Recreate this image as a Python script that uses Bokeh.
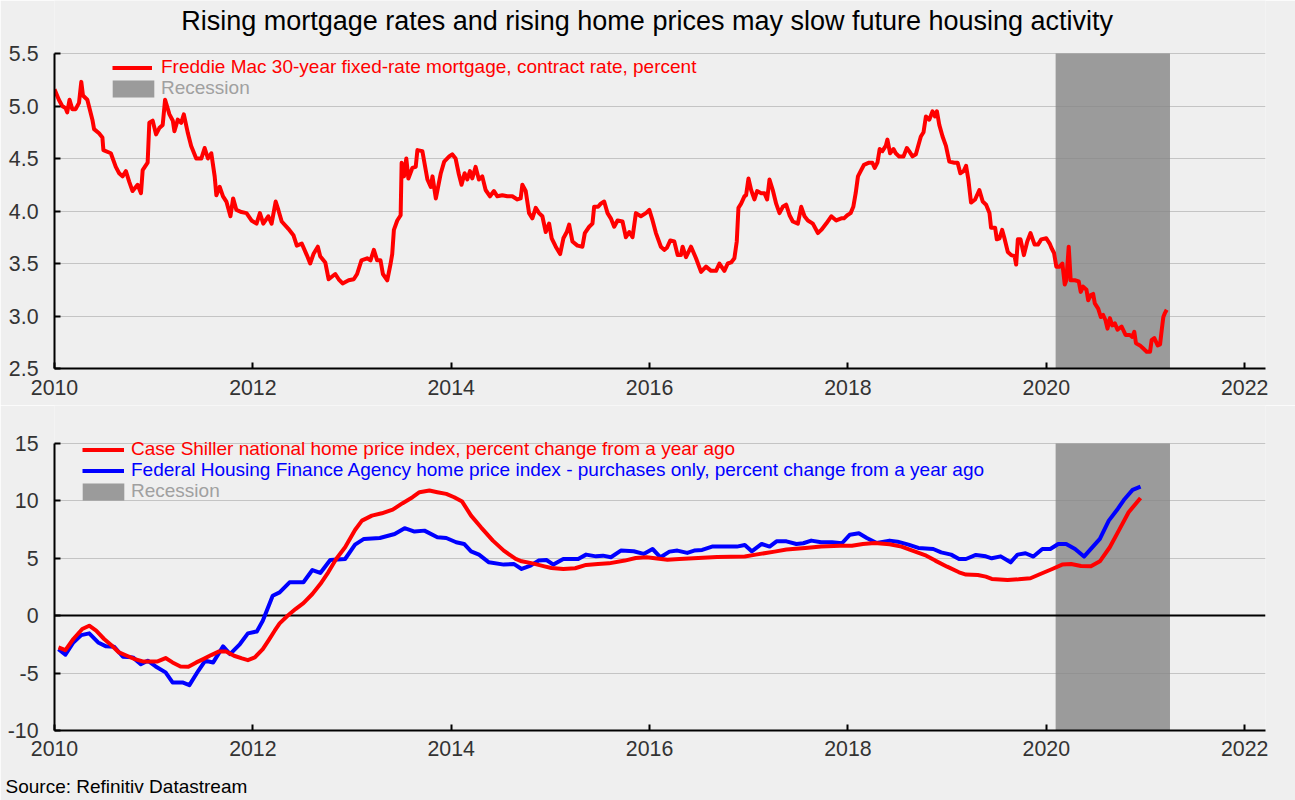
from bokeh.plotting import figure
from bokeh.models import Range1d, FixedTicker, Legend, LegendItem, Title, Label
from bokeh.layouts import column
from bokeh.embed import file_html
from bokeh.resources import INLINE

TITLE = "Rising mortgage rates and rising home prices may slow future housing activity"
SOURCE = "Source: Refinitiv Datastream"
RATE_LABEL = "Freddie Mac 30-year fixed-rate mortgage, contract rate, percent"
CS_LABEL = "Case Shiller national home price index, percent change from a year ago"
FHFA_LABEL = "Federal Housing Finance Agency home price index - purchases only, percent change from a year ago"
REC_LABEL = "Recession"

x_ticks = [2010, 2012, 2014, 2016, 2018, 2020, 2022]
x_tick_labels = ["2010", "2012", "2014", "2016", "2018", "2020", "2022"]
top_y_ticks = [2.5, 3.0, 3.5, 4.0, 4.5, 5.0, 5.5]
top_y_labels = ["2.5", "3.0", "3.5", "4.0", "4.5", "5.0", "5.5"]
bot_y_ticks = [-10, -5, 0, 5, 10, 15]
bot_y_labels = ["-10", "-5", "0", "5", "10", "15"]

recession_start = [2020.094]
recession_end = [2021.247]

rate_dates = [
    2010.000, 2010.044, 2010.078, 2010.111, 2010.128, 2010.152, 2010.179, 2010.213, 2010.247, 2010.270,
    2010.287, 2010.331, 2010.382, 2010.399, 2010.449, 2010.483, 2010.493, 2010.568, 2010.618, 2010.652,
    2010.686, 2010.720, 2010.753, 2010.787, 2010.838, 2010.872, 2010.889, 2010.939, 2010.956, 2010.990,
    2011.024, 2011.057, 2011.091, 2011.115, 2011.159, 2011.193, 2011.209, 2011.243, 2011.277, 2011.304,
    2011.345, 2011.378, 2011.429, 2011.480, 2011.514, 2011.547, 2011.581, 2011.615, 2011.632, 2011.666,
    2011.699, 2011.733, 2011.774, 2011.801, 2011.834, 2011.885, 2011.936, 2011.986, 2012.037, 2012.071,
    2012.105, 2012.155, 2012.189, 2012.230, 2012.257, 2012.291, 2012.358, 2012.409, 2012.443, 2012.493,
    2012.544, 2012.578, 2012.611, 2012.655, 2012.679, 2012.730, 2012.764, 2012.831, 2012.865, 2012.905,
    2012.966, 2013.017, 2013.051, 2013.095, 2013.152, 2013.186, 2013.220, 2013.253, 2013.287, 2013.311,
    2013.355, 2013.389, 2013.405, 2013.422, 2013.456, 2013.490, 2013.500, 2013.524, 2013.547, 2013.568,
    2013.608, 2013.642, 2013.659, 2013.709, 2013.760, 2013.794, 2013.811, 2013.845, 2013.895, 2013.929,
    2013.980,
    2014.010, 2014.044, 2014.077, 2014.104, 2014.135, 2014.162, 2014.189, 2014.212, 2014.246, 2014.279,
    2014.313, 2014.347, 2014.391, 2014.431, 2014.465, 2014.515, 2014.566, 2014.616, 2014.667, 2014.700,
    2014.717, 2014.751, 2014.785, 2014.818, 2014.852, 2014.886, 2014.919, 2014.953, 2014.987, 2015.013,
    2015.054, 2015.098, 2015.131, 2015.165, 2015.189, 2015.222, 2015.273, 2015.323, 2015.347, 2015.391,
    2015.424, 2015.441, 2015.481, 2015.508, 2015.542, 2015.576, 2015.609, 2015.643, 2015.677, 2015.727,
    2015.761, 2015.795, 2015.828, 2015.862, 2015.912, 2015.963, 2015.997, 2016.030, 2016.064, 2016.114,
    2016.148, 2016.175, 2016.209, 2016.249, 2016.283, 2016.316, 2016.333, 2016.367, 2016.418, 2016.468,
    2016.519, 2016.569, 2016.620, 2016.670, 2016.704, 2016.754, 2016.788, 2016.822, 2016.855, 2016.879,
    2016.896, 2016.923, 2016.956, 2016.973, 2016.997, 2017.024, 2017.057, 2017.084, 2017.125, 2017.158,
    2017.185, 2017.209, 2017.242, 2017.276, 2017.310, 2017.343, 2017.377, 2017.411, 2017.444, 2017.495,
    2017.529, 2017.562, 2017.596, 2017.646, 2017.697, 2017.731, 2017.781, 2017.832, 2017.882, 2017.933,
    2017.960, 2017.993, 2018.027, 2018.054, 2018.078, 2018.101, 2018.128, 2018.162, 2018.212, 2018.246,
    2018.270, 2018.297, 2018.320, 2018.347, 2018.381, 2018.398, 2018.425, 2018.459, 2018.482, 2018.516,
    2018.560, 2018.594, 2018.617, 2018.651, 2018.685, 2018.708, 2018.735, 2018.762, 2018.786, 2018.820,
    2018.853, 2018.877, 2018.897, 2018.921, 2018.954, 2018.988, 2019.022, 2019.073, 2019.106, 2019.133,
    2019.167, 2019.191, 2019.214, 2019.241, 2019.282, 2019.325, 2019.359, 2019.393, 2019.427, 2019.443,
    2019.484, 2019.501, 2019.528, 2019.555, 2019.578, 2019.612, 2019.646, 2019.680, 2019.696, 2019.713,
    2019.740, 2019.774, 2019.808, 2019.841, 2019.882, 2019.916, 2019.949, 2020.000, 2020.034, 2020.051,
    2020.078, 2020.101, 2020.135, 2020.162, 2020.186, 2020.202, 2020.226, 2020.246, 2020.287, 2020.327,
    2020.347, 2020.371, 2020.405, 2020.422, 2020.449, 2020.472, 2020.489, 2020.523, 2020.550, 2020.573,
    2020.597, 2020.617, 2020.641, 2020.664, 2020.691, 2020.718, 2020.759, 2020.799, 2020.843, 2020.867,
    2020.887, 2020.904, 2020.944, 2020.978, 2021.012, 2021.046, 2021.062, 2021.089, 2021.123, 2021.147,
    2021.164, 2021.180, 2021.197, 2021.214,
]
rate_values = [
    5.16, 5.06, 5.00, 4.98, 4.94, 5.06, 4.97, 4.97, 5.03, 5.23,
    5.10, 5.06, 4.87, 4.78, 4.74, 4.70, 4.58, 4.55, 4.42, 4.36,
    4.33, 4.38, 4.28, 4.19, 4.25, 4.17, 4.39, 4.46, 4.84, 4.86,
    4.73, 4.79, 4.82, 5.06, 4.92, 4.86, 4.76, 4.87, 4.84, 4.92,
    4.74, 4.62, 4.50, 4.50, 4.60, 4.50, 4.55, 4.33, 4.15, 4.23,
    4.14, 4.09, 3.95, 4.12, 4.01, 3.99, 3.98, 3.91, 3.88, 3.98,
    3.88, 3.95, 3.88, 4.09, 4.01, 3.90, 3.83, 3.77, 3.67, 3.69,
    3.58, 3.50, 3.59, 3.66, 3.57, 3.51, 3.35, 3.40, 3.35, 3.31,
    3.34, 3.35, 3.40, 3.53, 3.55, 3.53, 3.63, 3.53, 3.53, 3.40,
    3.34, 3.50, 3.59, 3.82, 3.91, 3.96, 4.46, 4.33, 4.50, 4.31,
    4.41, 4.42, 4.58, 4.57, 4.30, 4.23, 4.33, 4.12, 4.36, 4.47,
    4.52,
    4.54, 4.50, 4.35, 4.25, 4.36, 4.30, 4.38, 4.31, 4.42, 4.30,
    4.33, 4.20, 4.14, 4.19, 4.14, 4.15, 4.14, 4.14, 4.11, 4.12,
    4.25, 4.19, 3.98, 3.93, 4.03, 3.98, 3.95, 3.80, 3.88, 3.74,
    3.66, 3.59, 3.74, 3.80, 3.87, 3.71, 3.67, 3.66, 3.79, 3.85,
    3.88, 4.04, 4.04, 4.07, 4.09, 3.98, 3.93, 3.85, 3.91, 3.90,
    3.75, 3.80, 3.75, 3.98, 3.95, 3.98, 4.01, 3.91, 3.79, 3.66,
    3.63, 3.65, 3.72, 3.71, 3.58, 3.58, 3.66, 3.56, 3.66, 3.55,
    3.42, 3.47, 3.43, 3.43, 3.50, 3.43, 3.50, 3.51, 3.55, 3.71,
    4.03, 4.07, 4.14, 4.15, 4.31, 4.20, 4.11, 4.19, 4.17, 4.17,
    4.11, 4.30, 4.20, 4.07, 3.98, 4.04, 4.06, 3.96, 3.90, 3.88,
    4.04, 3.95, 3.91, 3.88, 3.79, 3.82, 3.88, 3.95, 3.91, 3.93,
    3.93, 3.96, 3.98, 4.04, 4.17, 4.33, 4.38, 4.44, 4.46, 4.46,
    4.41, 4.46, 4.59, 4.57, 4.62, 4.68, 4.55, 4.59, 4.55, 4.52,
    4.52, 4.60, 4.57, 4.52, 4.54, 4.62, 4.71, 4.75, 4.90, 4.87,
    4.95, 4.90, 4.95, 4.82, 4.71, 4.62, 4.47, 4.46, 4.46, 4.36,
    4.38, 4.43, 4.30, 4.08, 4.11, 4.20, 4.09, 4.06, 3.98, 3.84,
    3.84, 3.73, 3.74, 3.82, 3.74, 3.61, 3.58, 3.57, 3.49, 3.73,
    3.73, 3.58, 3.71, 3.79, 3.68, 3.68, 3.73, 3.74, 3.69, 3.65,
    3.60, 3.47, 3.47, 3.50, 3.30, 3.34, 3.66, 3.34, 3.34, 3.33,
    3.23, 3.28, 3.25, 3.15, 3.20, 3.21, 3.12, 3.07, 2.99, 3.01,
    2.96, 2.88, 2.98, 2.91, 2.93, 2.87, 2.90, 2.82, 2.82, 2.80,
    2.85, 2.74, 2.72, 2.69, 2.66, 2.66, 2.77, 2.79, 2.72, 2.73,
    2.87, 2.99, 3.03, 3.06,
]

cs_dates = [
    2010.04, 2010.11, 2010.19, 2010.28, 2010.35, 2010.42, 2010.50, 2010.58, 2010.65, 2010.73,
    2010.81, 2010.89, 2010.96, 2011.04, 2011.12, 2011.19, 2011.27, 2011.35, 2011.43, 2011.50,
    2011.58, 2011.66, 2011.73, 2011.81, 2011.89, 2011.95, 2012.02, 2012.10, 2012.16, 2012.22,
    2012.27, 2012.35, 2012.43, 2012.51, 2012.60, 2012.68, 2012.76, 2012.84, 2012.93, 2013.03,
    2013.10, 2013.20, 2013.30, 2013.41, 2013.51, 2013.61, 2013.68, 2013.78, 2013.86, 2013.95,
    2014.03, 2014.11, 2014.20, 2014.30, 2014.42, 2014.53, 2014.65, 2014.71, 2014.82, 2014.94,
    2015.01, 2015.13, 2015.25, 2015.36, 2015.48, 2015.59, 2015.75, 2015.86, 2015.97, 2016.18,
    2016.30, 2016.49, 2016.68, 2016.96, 2017.07, 2017.26, 2017.38, 2017.57, 2017.73, 2017.92,
    2018.04, 2018.15, 2018.27, 2018.42, 2018.54, 2018.65, 2018.79, 2018.88, 2019.00, 2019.12,
    2019.19, 2019.31, 2019.39, 2019.45, 2019.61, 2019.72, 2019.84, 2019.94, 2020.06, 2020.16,
    2020.25, 2020.35, 2020.45, 2020.54, 2020.64, 2020.74, 2020.83, 2020.95,
]
cs_values = [
    -2.76, -3.00, -2.03, -1.16, -0.87, -1.31, -2.03, -2.62, -3.20, -3.49,
    -3.78, -3.98, -4.00, -3.98, -3.69, -4.07, -4.42, -4.45, -4.07, -3.78,
    -3.43, -3.11, -3.11, -3.49, -3.72, -3.87, -3.63, -2.91, -2.12, -1.31,
    -0.67, 0.00, 0.58, 1.10, 1.89, 2.76, 3.78, 4.94, 5.96, 7.47,
    8.28, 8.72, 8.92, 9.24, 9.80, 10.32, 10.76, 10.90, 10.76, 10.61,
    10.32, 9.94, 8.72, 7.70, 6.54, 5.67, 4.94, 4.74, 4.56, 4.30,
    4.16, 4.07, 4.13, 4.42, 4.51, 4.56, 4.80, 5.03, 5.09, 4.88,
    4.94, 5.03, 5.12, 5.15, 5.32, 5.58, 5.76, 5.90, 6.02, 6.10,
    6.10, 6.25, 6.34, 6.22, 6.02, 5.67, 5.23, 4.80, 4.27, 3.78,
    3.58, 3.55, 3.40, 3.20, 3.11, 3.17, 3.26, 3.63, 4.07, 4.45,
    4.51, 4.33, 4.30, 4.74, 5.96, 7.56, 9.01, 10.26,
]

fhfa_dates = [
    2010.04, 2010.11, 2010.19, 2010.27, 2010.35, 2010.44, 2010.52, 2010.60, 2010.69, 2010.79,
    2010.87, 2010.94, 2011.02, 2011.12, 2011.19, 2011.29, 2011.36, 2011.45, 2011.52, 2011.60,
    2011.70, 2011.77, 2011.87, 2011.95, 2012.04, 2012.10, 2012.20, 2012.27, 2012.37, 2012.51,
    2012.60, 2012.68, 2012.78, 2012.93, 2013.03, 2013.12, 2013.28, 2013.43, 2013.53, 2013.63,
    2013.73, 2013.86, 2013.95, 2014.05, 2014.13, 2014.20, 2014.28, 2014.38, 2014.53, 2014.63,
    2014.71, 2014.80, 2014.88, 2014.96, 2015.03, 2015.13, 2015.28, 2015.36, 2015.46, 2015.53,
    2015.61, 2015.71, 2015.84, 2015.94, 2016.03, 2016.11, 2016.20, 2016.28, 2016.38, 2016.45,
    2016.53, 2016.63, 2016.88, 2016.96, 2017.03, 2017.13, 2017.21, 2017.28, 2017.38, 2017.48,
    2017.55, 2017.63, 2017.73, 2017.84, 2017.94, 2018.02, 2018.11, 2018.19, 2018.29, 2018.42,
    2018.50, 2018.61, 2018.71, 2018.86, 2018.94, 2019.04, 2019.12, 2019.19, 2019.29, 2019.39,
    2019.45, 2019.54, 2019.64, 2019.71, 2019.79, 2019.87, 2019.96, 2020.04, 2020.12, 2020.20,
    2020.29, 2020.38, 2020.47, 2020.54, 2020.63, 2020.72, 2020.79, 2020.87, 2020.95,
]
fhfa_values = [
    -2.91, -3.40, -2.33, -1.69, -1.54, -2.33, -2.67, -2.70, -3.58, -3.63,
    -4.22, -3.92, -4.42, -4.94, -5.81, -5.81, -6.05, -4.80, -3.92, -4.07,
    -2.67, -3.34, -2.47, -1.54, -1.37, -0.44, 1.74, 2.03, 2.91, 2.91,
    3.98, 3.72, 4.85, 4.94, 6.19, 6.69, 6.77, 7.12, 7.62, 7.33,
    7.41, 6.83, 6.77, 6.40, 6.25, 5.61, 5.32, 4.65, 4.45, 4.51,
    4.07, 4.36, 4.80, 4.85, 4.45, 4.94, 4.94, 5.32, 5.17, 5.23,
    5.09, 5.67, 5.61, 5.38, 5.81, 5.09, 5.58, 5.67, 5.47, 5.67,
    5.73, 6.02, 6.02, 6.16, 5.61, 6.25, 6.02, 6.48, 6.48, 6.25,
    6.31, 6.54, 6.40, 6.40, 6.31, 7.06, 7.18, 6.77, 6.34, 6.54,
    6.45, 6.19, 5.90, 5.81, 5.52, 5.32, 4.94, 4.94, 5.29, 5.17,
    5.00, 5.17, 4.65, 5.32, 5.44, 5.15, 5.81, 5.81, 6.25, 6.25,
    5.81, 5.15, 6.02, 6.69, 8.28, 9.30, 10.17, 10.96, 11.25,
]

BG = "#efefef"
FONT = "Liberation Sans"
X_MIN, X_MAX = 2010.0, 2022.21
TOP_MIN, TOP_MAX, TOP_VIEW = 2.5, 5.5, 6.005     # view extends above the axis to hold the title
BOT_MIN, BOT_MAX, BOT_VIEW = -10.0, 15.0, 18.31  # view extends above the axis to hold the legend
TITLE_X, TITLE_Y = 2015.975, 5.814
REC_FILL = "#848484"
REC_ALPHA = 0.79


def style(p, yticks, ylabels, ybounds, xstandoff):
    p.background_fill_color = BG
    p.border_fill_color = BG
    p.outline_line_color = None
    p.xgrid.visible = False
    p.ygrid.grid_line_color = "#c4c4c4"
    p.ygrid.grid_line_width = 1
    p.xaxis.ticker = FixedTicker(ticks=x_ticks)
    p.xaxis.major_label_overrides = dict(zip(x_ticks, x_tick_labels))
    p.yaxis.ticker = FixedTicker(ticks=yticks)
    p.yaxis.major_label_overrides = dict(zip(yticks, ylabels))
    p.yaxis.bounds = ybounds
    for ax in (p.xaxis, p.yaxis):
        ax.axis_line_color = "black"
        ax.axis_line_width = 2
        ax.major_tick_in = 6
        ax.major_tick_out = 0
        ax.major_tick_line_color = "black"
        ax.major_tick_line_width = 2
        ax.minor_tick_line_color = None
        ax.major_label_text_font = FONT
        ax.major_label_text_font_size = "21.33px"
        ax.major_label_text_color = "#333333"
    p.xaxis.major_label_standoff = xstandoff
    p.yaxis.major_label_standoff = 16


def one_legend(p, label, renderer, color, x, y, gw, standoff):
    lg = Legend(items=[LegendItem(label=label, renderers=[renderer])],
                location=(x, y), orientation="vertical",
                glyph_width=gw, glyph_height=21, label_height=21,
                label_standoff=standoff, padding=0, margin=0, spacing=0,
                border_line_color=None, background_fill_alpha=0,
                label_text_font=FONT, label_text_font_size="19px",
                label_text_color=color, click_policy="none")
    p.add_layout(lg, "center")


# ---------------- top panel ----------------
p1 = figure(width=1295, height=405, output_backend="svg", toolbar_location=None,
            x_range=Range1d(X_MIN, X_MAX), y_range=Range1d(TOP_MIN, TOP_VIEW),
            min_border_left=54, min_border_right=30, min_border_top=0, min_border_bottom=37)
style(p1, top_y_ticks, top_y_labels, (TOP_MIN, TOP_MAX), 11)

rec1 = p1.quad(left=recession_start, right=recession_end, bottom=[TOP_MIN], top=[TOP_MAX],
               fill_color=REC_FILL, fill_alpha=REC_ALPHA, line_color=None)
r_rate = p1.line(rate_dates, rate_values, line_color="#ff0000", line_width=4, line_join="round")

p1.add_layout(Label(x=TITLE_X, y=TITLE_Y, text=TITLE, text_align="center", text_baseline="middle",
                    text_font=FONT, text_font_size="27px", text_color="black"))

one_legend(p1, RATE_LABEL, r_rate, "#ff0000", 58, 290, 40, 9)
one_legend(p1, REC_LABEL, rec1, "#a0a0a0", 53, 269, 52, 2)

# ---------------- bottom panel ----------------
p2 = figure(width=1295, height=395, output_backend="svg", toolbar_location=None,
            x_range=Range1d(X_MIN, X_MAX), y_range=Range1d(BOT_MIN, BOT_VIEW),
            min_border_left=54, min_border_right=30, min_border_top=0, min_border_bottom=70)
style(p2, bot_y_ticks, bot_y_labels, (BOT_MIN, BOT_MAX), 10)
gap = Title(text=" ", text_font=FONT, text_font_size="1px", standoff=12)
p2.add_layout(gap, "below")
src = Title(text=SOURCE, align="left", offset=-49, text_font=FONT, text_font_size="19px",
            text_font_style="normal", text_color="black", standoff=0)
p2.add_layout(src, "below")

rec2 = p2.quad(left=recession_start, right=recession_end, bottom=[BOT_MIN], top=[BOT_MAX],
               fill_color=REC_FILL, fill_alpha=REC_ALPHA, line_color=None)
p2.hspan(y=[0], line_color="black", line_width=2)
r_fhfa = p2.line(fhfa_dates, fhfa_values, line_color="#0000ff", line_width=4, line_join="round")
r_cs = p2.line(cs_dates, cs_values, line_color="#ff0000", line_width=4, line_join="round")

one_legend(p2, CS_LABEL, r_cs, "#ff0000", 28, 270, 42, 7)
one_legend(p2, FHFA_LABEL, r_fhfa, "#0000ff", 28, 249, 42, 7)
one_legend(p2, REC_LABEL, rec2, "#a0a0a0", 23, 228, 52, 2)

layout = column(p1, p2, spacing=0)
open("out.html", "w").write(file_html(layout, INLINE))
